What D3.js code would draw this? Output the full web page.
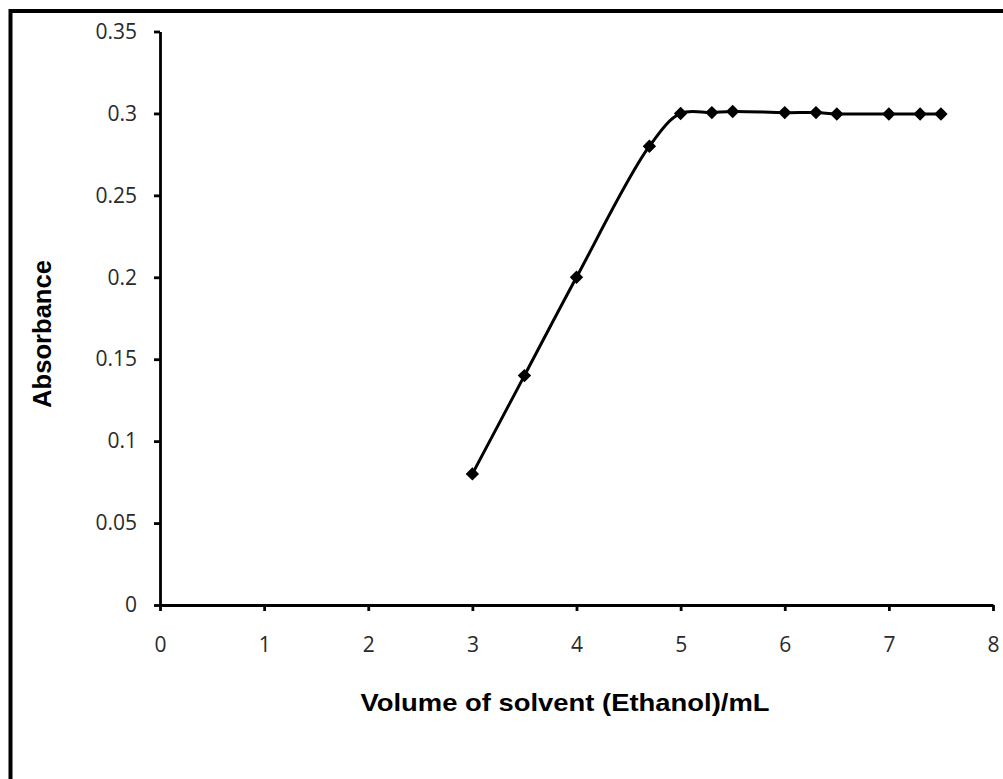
<!DOCTYPE html>
<html>
<head>
<meta charset="utf-8">
<script src="https://cdn.jsdelivr.net/npm/d3@7"></script>
<style>
  body { margin: 0; background: #fff; }
  svg { display: block; }
  .tick text { font-family: "Open Sans", "Noto Sans", sans-serif; font-size: 21px; }
</style>
</head>
<body>
<svg width="1003" height="779"></svg>
<script>
// volume of ethanol (mL) and absorbance
var volume = [3, 3.5, 4, 4.7, 5, 5.3, 5.5, 6, 6.3, 6.5, 7, 7.3, 7.5];
var absorbance = [0.08, 0.14, 0.2, 0.28, 0.3, 0.3005, 0.3012, 0.3005, 0.3005, 0.2997, 0.2997, 0.2997, 0.2997];

var xTicks = [0, 1, 2, 3, 4, 5, 6, 7, 8];
var yTicks = [0, 0.05, 0.1, 0.15, 0.2, 0.25, 0.3, 0.35];
var yTickLabels = ["0", "0.05", "0.1", "0.15", "0.2", "0.25", "0.3", "0.35"];

var xTitle = "Volume of solvent (Ethanol)/mL";
var yTitle = "Absorbance";

var svg = d3.select("svg");

// outer frame (right and bottom edges fall outside the picture)
svg.append("rect")
    .attr("x", 10.5).attr("y", 11)
    .attr("width", 1010).attr("height", 790)
    .attr("fill", "#fff")
    .attr("stroke", "#000")
    .attr("stroke-width", 4);

var x = d3.scaleLinear().domain([0, 8]).range([160, 993]);
var y = d3.scaleLinear().domain([0, 0.35]).range([605, 31.5]);

var yAxis = svg.append("g")
    .attr("transform", "translate(" + x(0) + ",0)")
    .call(d3.axisLeft(y)
        .tickValues(yTicks)
        .tickFormat(function(d, i) { return yTickLabels[i]; })
        .tickSize(6)
        .tickSizeOuter(0)
        .tickPadding(17));

var xAxis = svg.append("g")
    .attr("transform", "translate(0," + y(0) + ")")
    .call(d3.axisBottom(x)
        .tickValues(xTicks)
        .tickFormat(d3.format("d"))
        .tickSize(6)
        .tickSizeOuter(0)
        .tickPadding(26));

[xAxis, yAxis].forEach(function(a) {
    a.attr("font-size", null).attr("font-family", null);
    a.select(".domain").attr("stroke", "#000").attr("stroke-width", 2.8);
    a.selectAll(".tick line").attr("stroke", "#000").attr("stroke-width", 2.8);
    a.selectAll(".tick text").attr("fill", "#2a2a2a");
});

var pts = volume.map(function(v, i) { return [v, absorbance[i]]; });

var line = d3.line()
    .x(function(d) { return x(d[0]); })
    .y(function(d) { return y(d[1]); })
    .curve(d3.curveCatmullRom.alpha(0.5));

svg.append("path")
    .datum(pts)
    .attr("fill", "none")
    .attr("stroke", "#000")
    .attr("stroke-width", 3)
    .attr("d", line);

var diamond = d3.symbol().type(d3.symbolSquare).size(90);

svg.selectAll(".pt")
    .data(pts)
    .enter()
    .append("path")
    .attr("class", "pt")
    .attr("transform", function(d) {
        return "translate(" + x(d[0]) + "," + y(d[1]) + ") rotate(45)";
    })
    .attr("d", diamond)
    .attr("fill", "#000");

svg.append("text")
    .attr("x", 565)
    .attr("y", 711)
    .attr("text-anchor", "middle")
    .attr("textLength", 409)
    .attr("lengthAdjust", "spacingAndGlyphs")
    .style("font-family", "'Liberation Sans', Arial, sans-serif")
    .style("font-weight", "bold")
    .style("font-size", "24px")
    .text(xTitle);

svg.append("text")
    .attr("transform", "translate(51,334) rotate(-90)")
    .attr("text-anchor", "middle")
    .attr("textLength", 148)
    .attr("lengthAdjust", "spacingAndGlyphs")
    .style("font-family", "'Liberation Sans', Arial, sans-serif")
    .style("font-weight", "bold")
    .style("font-size", "25px")
    .text(yTitle);
</script>
</body>
</html>
